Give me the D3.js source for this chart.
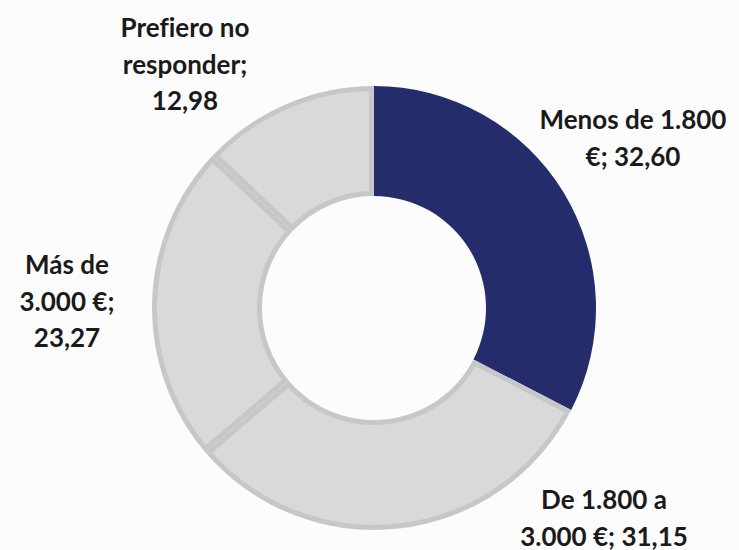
<!DOCTYPE html>
<html>
<head>
<meta charset="utf-8">
<script src="https://cdn.jsdelivr.net/npm/d3@7"></script>
<style>
  html, body { margin: 0; padding: 0; background: #fcfcfc; }
  svg { display: block; }
  text { font-family: Lato, "Open Sans", sans-serif; font-weight: 700; fill: #1a1a1a; font-variant-ligatures: none; font-feature-settings: "liga" 0; }
</style>
</head>
<body>
<svg id="chart" width="739" height="550"></svg>
<script>
const categories = ["Menos de 1.800 €", "De 1.800 a 3.000 €", "Más de 3.000 €", "Prefiero no responder"];
const values = [32.60, 31.15, 23.27, 12.98];
const labelLines = [
  ["Menos de 1.800", "€; 32,60"],
  ["De 1.800 a", "3.000 €; 31,15"],
  ["Más de", "3.000 €;", "23,27"],
  ["Prefiero no", "responder;", "12,98"]
];
const highlight = [true, false, false, false];

const W = 739, H = 550;
const cx = 374, cy = 308, R = 222, r = 112, border = 5;
const navy = "#252c6b", grayFill = "#d9d9d9", grayStroke = "#c7c7c7";

const svg = d3.select("#chart");
const g = svg.append("g").attr("transform", `translate(${cx},${cy})`);

const data = categories.map((c, i) => ({ name: c, value: values[i], hi: highlight[i], lines: labelLines[i] }));
const pie = d3.pie().value(d => d.value).sort(null);
const arcs = pie(data);

const outerArc = d3.arc().innerRadius(r).outerRadius(R);
const insetArc = d3.arc().innerRadius(r + border).outerRadius(R - border)
  .padRadius(R).padAngle(2 * border / R);

arcs.forEach(a => {
  if (a.data.hi) {
    g.append("path").attr("d", outerArc(a)).attr("fill", navy);
  } else {
    g.append("path").attr("d", outerArc(a)).attr("fill", grayStroke);
    g.append("path").attr("d", insetArc(a)).attr("fill", grayFill);
  }
});

const labelPos = [
  { x: 633, y: 129 },
  { x: 604, y: 509 },
  { x: 67, y: 274 },
  { x: 185, y: 37 }
];
const lineH = 36.5;

arcs.forEach((a, i) => {
  const t = svg.append("text")
    .attr("text-anchor", "middle")
    .attr("font-size", 26);
  a.data.lines.forEach((ln, j) => {
    t.append("tspan").attr("x", labelPos[i].x).attr("y", labelPos[i].y + j * lineH).text(ln);
  });
});
</script>
</body>
</html>
